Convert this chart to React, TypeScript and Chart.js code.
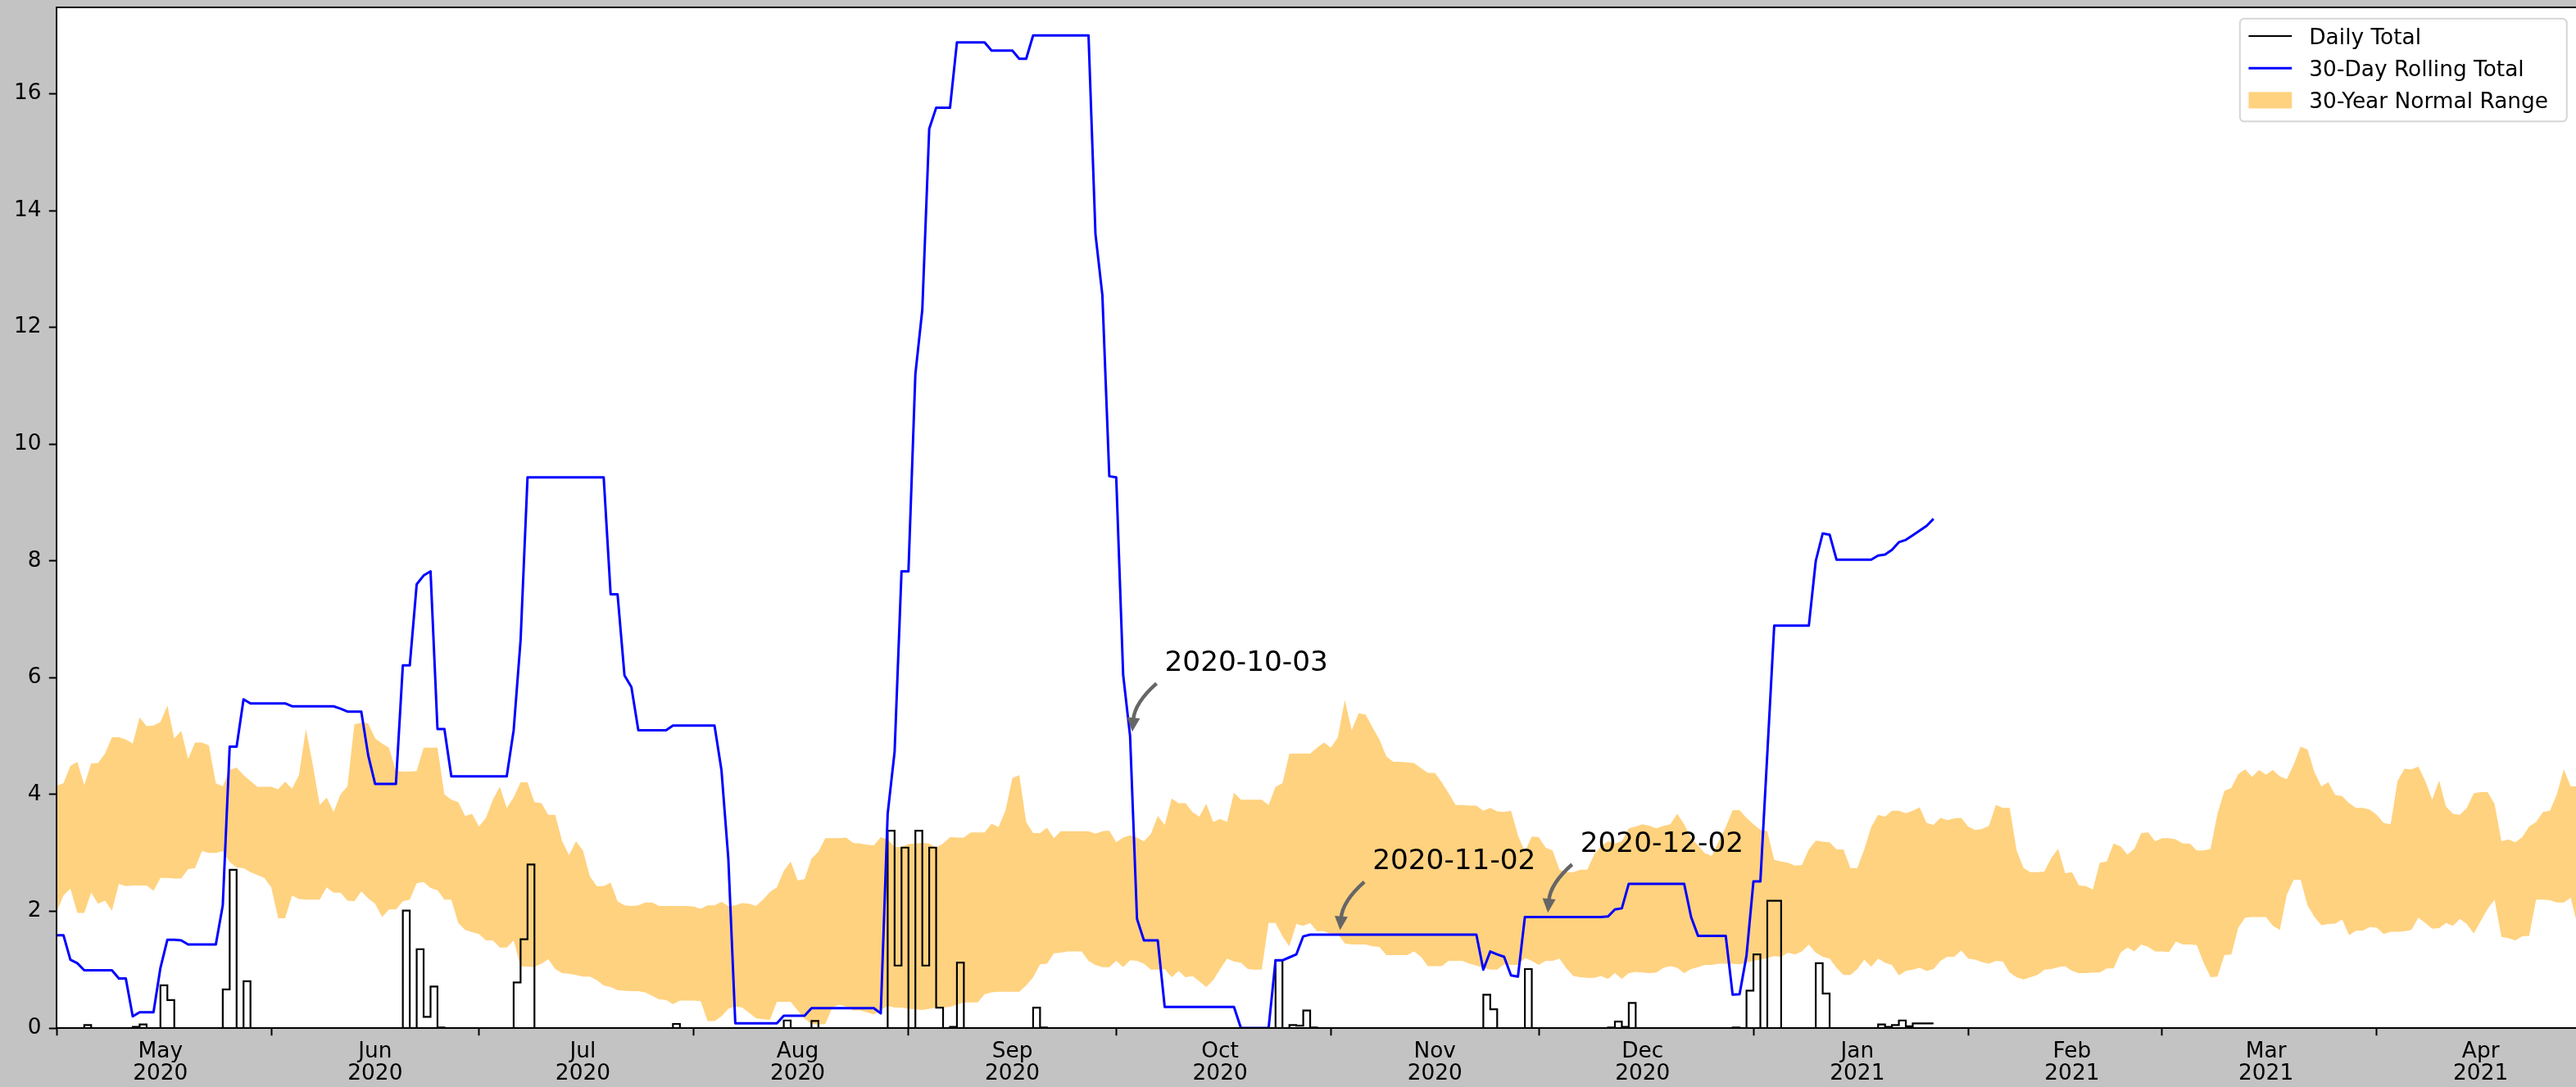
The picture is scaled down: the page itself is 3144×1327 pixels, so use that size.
import React, { useEffect, useRef } from 'react';
import { Chart, registerables } from 'chart.js';

Chart.register(...registerables);

// ---------------- data ----------------
// Day index = days since 2020-05-01
const START_DATE = '2020-05-01';
const END_DATE = '2021-04-30';

const monthStarts = ['2020-05-01', '2020-06-01', '2020-07-01', '2020-08-01', '2020-09-01', '2020-10-01',
  '2020-11-01', '2020-12-01', '2021-01-01', '2021-02-01', '2021-03-01', '2021-04-01'];
const monthLabels = ['May', 'Jun', 'Jul', 'Aug', 'Sep', 'Oct', 'Nov', 'Dec', 'Jan', 'Feb', 'Mar', 'Apr'];
const monthYears = ['2020', '2020', '2020', '2020', '2020', '2020', '2020', '2020', '2021', '2021', '2021', '2021'];

const yTicks = [0, 2, 4, 6, 8, 10, 12, 14, 16];
const Y_MAX = 17.48;

// Daily totals: rain days (day index) and amounts
const dailyLastDay = 271;
const rainDays = [4, 11, 12, 15, 16, 24, 25, 27, 50, 52, 53, 54, 55, 66, 67, 68, 89, 105, 109,
  120, 121, 122, 124, 125, 126, 127, 129, 130, 141, 142, 176, 178, 179, 180, 181, 206, 207, 212,
  224, 225, 226, 227, 242, 244, 245, 247, 248, 254, 255, 263, 264, 265, 266, 267, 268, 269, 270, 271];
const rainVals = [0.05, 0.02, 0.06, 0.73, 0.48, 0.66, 2.71, 0.80, 2.01, 1.35, 0.19, 0.71, 0.01, 0.78, 1.52, 2.80, 0.07, 0.13, 0.12,
  3.38, 1.07, 3.09, 3.38, 1.07, 3.09, 0.35, 0.02, 1.12, 0.35, 0.01, 1.16, 0.05, 0.04, 0.30, 0.01, 0.57, 0.32, 1.01,
  0.01, 0.11, 0.02, 0.43, 0.01, 0.64, 1.26, 2.18, 2.18, 1.11, 0.59, 0.06, 0.02, 0.05, 0.13, 0.03, 0.08, 0.08, 0.08, 0.08];

// 30-day rolling total (vertices, day index -> value)
const rollDays = [0, 1, 2, 3, 4, 8, 9, 10, 11, 12, 14, 15, 16, 17, 18, 19, 23, 24, 25, 26, 27, 28, 33, 34, 40, 41, 42, 44,
  45, 46, 49, 50, 51, 52, 53, 54, 55, 56, 57, 65, 66, 67, 68, 79, 80, 81, 82, 83, 84, 88, 89, 95, 96, 97, 98, 104, 105,
  108, 109, 118, 119, 120, 121, 122, 123, 124, 125, 126, 127, 129, 130, 134, 135, 138, 139, 140, 141, 149, 150, 151,
  152, 153, 154, 155, 156, 157, 159, 160, 170, 171, 175, 176, 177, 178, 179, 180, 181, 205, 206, 207, 208, 209, 210,
  211, 212, 223, 224, 225, 226, 227, 235, 236, 237, 241, 242, 243, 244, 245, 246, 247, 248, 253, 254, 255, 256, 257,
  262, 263, 264, 265, 266, 267, 268, 269, 270, 271];
const rollVals = [1.59, 1.59, 1.17, 1.11, 0.99, 0.99, 0.85, 0.85, 0.20, 0.27, 0.27, 1.03, 1.51, 1.51, 1.50, 1.43, 1.43,
  2.10, 4.82, 4.82, 5.63, 5.56, 5.56, 5.51, 5.51, 5.47, 5.42, 5.42, 4.67, 4.18, 4.18, 6.21, 6.21, 7.60, 7.75, 7.82,
  5.12, 5.12, 4.31, 4.31, 5.10, 6.64, 9.43, 9.43, 7.43, 7.43, 6.04, 5.84, 5.10, 5.10, 5.18, 5.18, 4.42, 2.89, 0.08,
  0.08, 0.21, 0.21, 0.34, 0.34, 0.25, 3.67, 4.73, 7.82, 7.82, 11.20, 12.30, 15.40, 15.76, 15.76, 16.88, 16.88, 16.74,
  16.74, 16.60, 16.60, 17.00, 17.00, 13.60, 12.55, 9.45, 9.43, 6.05, 5.00, 1.87, 1.50, 1.50, 0.36, 0.36, 0.00, 0.00,
  1.16, 1.16, 1.21, 1.26, 1.57, 1.60, 1.60, 1.00, 1.31, 1.26, 1.22, 0.90, 0.88, 1.90, 1.90, 1.91, 2.03, 2.05, 2.47,
  2.47, 1.90, 1.58, 1.58, 0.57, 0.58, 1.24, 2.51, 2.51, 4.69, 6.89, 6.89, 8.00, 8.47, 8.45, 8.02, 8.02, 8.09, 8.11,
  8.19, 8.32, 8.36, 8.44, 8.52, 8.60, 8.72];

// 30-year normal range, one value per day from 2020-05-01 to 2021-04-30
const normalUpper = [
  4.15, 4.19, 4.49, 4.56, 4.16, 4.53, 4.54, 4.70, 4.98, 4.98,
  4.94, 4.87, 5.32, 5.17, 5.18, 5.24, 5.52, 4.96, 5.09, 4.61,
  4.89, 4.89, 4.84, 4.19, 4.14, 4.42, 4.46, 4.33, 4.23, 4.13,
  4.13, 4.13, 4.09, 4.22, 4.10, 4.33, 5.12, 4.51, 3.82, 3.95,
  3.70, 4.00, 4.14, 5.20, 5.23, 5.22, 4.96, 4.87, 4.80, 4.40,
  4.39, 4.39, 4.40, 4.80, 4.80, 4.80, 4.00, 3.91, 3.87, 3.63,
  3.67, 3.45, 3.60, 3.91, 4.13, 3.77, 3.95, 4.21, 4.21, 3.87,
  3.85, 3.65, 3.65, 3.20, 2.96, 3.20, 3.04, 2.60, 2.43, 2.43,
  2.49, 2.17, 2.10, 2.09, 2.10, 2.15, 2.15, 2.09, 2.09, 2.09,
  2.09, 2.09, 2.08, 2.04, 2.10, 2.10, 2.16, 2.09, 2.10, 2.14,
  2.13, 2.09, 2.20, 2.33, 2.41, 2.69, 2.85, 2.53, 2.55, 2.90,
  3.02, 3.25, 3.25, 3.25, 3.26, 3.17, 3.16, 3.14, 3.13, 3.27,
  3.23, 3.10, 3.10, 3.15, 3.16, 3.17, 3.16, 3.09, 3.16, 3.27,
  3.26, 3.26, 3.35, 3.35, 3.35, 3.50, 3.44, 3.72, 4.28, 4.33,
  3.53, 3.34, 3.34, 3.43, 3.25, 3.37, 3.37, 3.37, 3.37, 3.37,
  3.33, 3.37, 3.38, 3.18, 3.26, 3.30, 3.26, 3.20, 3.32, 3.63,
  3.48, 3.93, 3.85, 3.85, 3.70, 3.62, 3.84, 3.53, 3.58, 3.53,
  4.03, 3.91, 3.91, 3.91, 3.91, 3.82, 4.13, 4.19, 4.70, 4.70,
  4.70, 4.70, 4.80, 4.89, 4.80, 4.98, 5.62, 5.10, 5.39, 5.37,
  5.15, 4.94, 4.65, 4.56, 4.56, 4.55, 4.54, 4.45, 4.37, 4.37,
  4.21, 4.02, 3.82, 3.82, 3.81, 3.81, 3.72, 3.77, 3.71, 3.70,
  3.72, 3.30, 3.02, 3.28, 3.27, 3.09, 3.04, 2.71, 2.67, 2.67,
  2.71, 2.71, 2.97, 3.11, 3.20, 3.16, 3.20, 3.42, 3.45, 3.49,
  3.46, 3.42, 3.46, 3.49, 3.67, 3.49, 3.25, 3.13, 2.99, 2.95,
  3.20, 3.44, 3.73, 3.73, 3.60, 3.49, 3.39, 3.37, 2.88, 2.85,
  2.83, 2.78, 2.79, 3.06, 3.21, 3.19, 3.18, 3.06, 3.06, 2.74,
  2.74, 3.06, 3.44, 3.65, 3.62, 3.72, 3.72, 3.68, 3.72, 3.78,
  3.51, 3.48, 3.60, 3.56, 3.59, 3.60, 3.45, 3.39, 3.41, 3.46,
  3.82, 3.77, 3.77, 3.04, 2.74, 2.67, 2.67, 2.68, 2.91, 3.07,
  2.65, 2.67, 2.44, 2.43, 2.37, 2.83, 2.85, 3.16, 3.11, 2.97,
  3.07, 3.34, 3.35, 3.20, 3.25, 3.25, 3.23, 3.16, 3.16, 3.04,
  3.04, 3.07, 3.67, 4.06, 4.11, 4.35, 4.43, 4.30, 4.42, 4.34,
  4.42, 4.31, 4.26, 4.51, 4.82, 4.77, 4.38, 4.14, 4.21, 3.99,
  3.97, 3.85, 3.77, 3.77, 3.74, 3.65, 3.51, 3.49, 4.23, 4.44,
  4.43, 4.48, 4.23, 3.91, 4.24, 3.79, 3.67, 3.65, 3.77, 4.02,
  4.04, 4.04, 3.84, 3.20, 3.23, 3.18, 3.27, 3.45, 3.53, 3.70,
  3.72, 4.00, 4.43, 4.14, 4.14];
const normalLower = [
  1.99, 2.27, 2.39, 1.97, 1.97, 2.32, 2.13, 2.18, 2.01, 2.47,
  2.43, 2.44, 2.44, 2.44, 2.35, 2.57, 2.57, 2.56, 2.56, 2.72,
  2.74, 3.03, 3.00, 3.00, 3.03, 2.84, 2.75, 2.74, 2.67, 2.62,
  2.57, 2.41, 1.88, 1.88, 2.27, 2.21, 2.20, 2.20, 2.20, 2.41,
  2.32, 2.32, 2.18, 2.17, 2.34, 2.22, 2.13, 1.90, 2.03, 2.03,
  2.17, 2.20, 2.48, 2.50, 2.40, 2.36, 2.20, 2.20, 1.80, 1.68,
  1.64, 1.61, 1.50, 1.50, 1.38, 1.38, 1.50, 1.06, 1.05, 1.05,
  1.10, 1.18, 1.01, 0.94, 0.93, 0.91, 0.88, 0.88, 0.82, 0.73,
  0.70, 0.65, 0.64, 0.63, 0.63, 0.61, 0.55, 0.49, 0.48, 0.41,
  0.47, 0.47, 0.47, 0.46, 0.12, 0.12, 0.20, 0.33, 0.37, 0.35,
  0.26, 0.17, 0.15, 0.14, 0.45, 0.45, 0.45, 0.30, 0.16, 0.07,
  0.06, 0.07, 0.35, 0.40, 0.37, 0.30, 0.30, 0.27, 0.23, 0.31,
  0.38, 0.35, 0.35, 0.33, 0.32, 0.31, 0.33, 0.35, 0.35, 0.36,
  0.40, 0.44, 0.44, 0.44, 0.58, 0.61, 0.62, 0.62, 0.62, 0.62,
  0.73, 0.87, 1.09, 1.10, 1.28, 1.29, 1.31, 1.31, 1.31, 1.15,
  1.08, 1.04, 1.04, 1.15, 1.04, 1.16, 1.15, 1.10, 1.00, 1.00,
  1.01, 0.87, 0.98, 0.87, 0.89, 0.80, 0.70, 0.82, 1.01, 1.19,
  1.14, 1.12, 1.01, 1.00, 1.00, 1.80, 1.80, 1.57, 1.40, 1.78,
  1.75, 1.80, 1.66, 1.66, 1.61, 1.61, 1.45, 1.43, 1.43, 1.43,
  1.40, 1.39, 1.25, 1.25, 1.25, 1.25, 1.31, 1.22, 1.06, 1.06,
  1.06, 1.15, 1.15, 1.15, 1.10, 1.07, 1.03, 1.00, 1.00, 1.09,
  1.08, 1.08, 1.20, 1.15, 1.08, 1.15, 1.15, 1.19, 1.02, 0.89,
  0.87, 0.86, 0.86, 0.89, 0.84, 0.94, 0.84, 0.94, 0.96, 0.95,
  0.94, 0.95, 1.03, 1.06, 1.03, 0.94, 1.01, 1.04, 1.08, 1.08,
  1.10, 1.10, 1.10, 1.09, 1.12, 1.15, 1.17, 1.20, 1.23, 1.22,
  1.29, 1.26, 1.31, 1.43, 1.29, 1.22, 1.19, 1.03, 0.91, 0.91,
  1.01, 1.17, 1.05, 1.19, 1.12, 1.08, 0.90, 0.98, 1.00, 1.03,
  0.98, 1.01, 1.15, 1.22, 1.22, 1.33, 1.19, 1.17, 1.13, 1.10,
  1.15, 1.14, 0.95, 0.87, 0.83, 0.87, 0.91, 1.00, 1.01, 1.04,
  1.06, 0.98, 0.94, 0.94, 0.95, 0.95, 1.02, 1.02, 1.29, 1.38,
  1.31, 1.43, 1.39, 1.31, 1.31, 1.30, 1.48, 1.43, 1.43, 1.42,
  1.12, 0.87, 0.88, 1.25, 1.26, 1.72, 1.89, 1.90, 1.90, 1.90,
  1.75, 1.68, 2.28, 2.54, 2.54, 2.10, 1.90, 1.76, 1.78, 1.79,
  1.86, 1.59, 1.67, 1.67, 1.73, 1.72, 1.61, 1.65, 1.65, 1.66,
  1.68, 1.89, 1.80, 1.70, 1.71, 1.80, 1.75, 1.87, 1.78, 1.62,
  1.83, 2.04, 2.20, 1.56, 1.54, 1.50, 1.57, 1.58, 2.20, 2.20,
  2.19, 2.15, 2.15, 2.23, 1.75];

// Annotated dates
const annotationDates = ['2020-10-03', '2020-11-02', '2020-12-02'];

const legendLabels = ['Daily Total', '30-Day Rolling Total', '30-Year Normal Range'];

// ---------------- helpers / styles ----------------
const dayOf = (iso: string) =>
  Math.round((Date.parse(iso + 'T00:00:00Z') - Date.parse(START_DATE + 'T00:00:00Z')) / 86400000);

const PAGE_W = 3144;
const PAGE_H = 1327;
const CANVAS_W = 3148;
const FONT = '"DejaVu Sans", "Liberation Sans", sans-serif';
const FIG_BG = '#c3c3c3';
const BAND = 'rgba(255,165,0,0.5)';
const BLUE = '#0000ff';
const ARROW = '#666666';

function rollingAt(day: number) {
  for (let i = 0; i < rollDays.length - 1; i++) {
    if (day >= rollDays[i] && day <= rollDays[i + 1]) {
      const t = (day - rollDays[i]) / (rollDays[i + 1] - rollDays[i] || 1);
      return rollVals[i] + t * (rollVals[i + 1] - rollVals[i]);
    }
  }
  return rollVals[rollVals.length - 1];
}

export default function App() {
  const ref = useRef<HTMLCanvasElement | null>(null);

  useEffect(() => {
    const canvas = ref.current;
    if (!canvas) return;

    const dailyPts: { x: number; y: number }[] = [];
    for (let d = 0; d <= dailyLastDay; d++) dailyPts.push({ x: d, y: 0 });
    rainDays.forEach((d, i) => { dailyPts[d].y = rainVals[i]; });
    const rollPts = rollDays.map((d, i) => ({ x: d, y: rollVals[i] }));
    const lowerPts = normalLower.map((v, i) => ({ x: i, y: v }));
    const upperPts = normalUpper.map((v, i) => ({ x: i, y: v }));

    const boundaryDays = monthStarts.map(dayOf);
    const labelDays = boundaryDays.map((d) => d + 15);
    const xMax = dayOf(END_DATE);

    const bgPlugin = {
      id: 'figbg',
      beforeDraw(chart: any) {
        const { ctx, chartArea: a } = chart;
        ctx.save();
        ctx.fillStyle = FIG_BG;
        ctx.fillRect(0, 0, chart.width, chart.height);
        ctx.fillStyle = '#ffffff';
        ctx.fillRect(a.left, a.top, a.right - a.left, a.bottom - a.top);
        ctx.restore();
      },
    };

    const overlayPlugin = {
      id: 'overlay',
      afterDraw(chart: any) {
        const { ctx, chartArea: a } = chart;
        const xs = chart.scales.x;
        const ys = chart.scales.y;
        ctx.save();
        // spines
        ctx.strokeStyle = '#000';
        ctx.lineWidth = 2;
        ctx.strokeRect(a.left, a.top, a.right - a.left, a.bottom - a.top);

        // annotations
        annotationDates.forEach((iso) => {
          const d = dayOf(iso);
          const v = rollingAt(d);
          const tx = xs.getPixelForValue(d + 5);
          const ty = ys.getPixelForValue(v + 1);
          ctx.font = `34.3px ${FONT}`;
          ctx.fillStyle = '#000';
          ctx.textAlign = 'left';
          ctx.textBaseline = 'bottom';
          ctx.fillText(iso, tx, ty);

          const px = xs.getPixelForValue(d);
          const py = ys.getPixelForValue(v);
          const x0 = tx - 10, y0 = ty + 7;
          const ddx = px - x0, ddy = py - y0;
          const len = Math.hypot(ddx, ddy);
          const x1 = px - (ddx / len) * 6, y1 = py - (ddy / len) * 6;
          const rad = 0.2;
          const mx = (x0 + x1) / 2, my = (y0 + y1) / 2;
          const cx = mx - rad * (y1 - y0), cy = my + rad * (x1 - x0);
          const ang = Math.atan2(y1 - cy, x1 - cx);
          const hl = 17, hw = 16;
          const bx = x1 - hl * Math.cos(ang), by = y1 - hl * Math.sin(ang);
          ctx.strokeStyle = ARROW;
          ctx.fillStyle = ARROW;
          ctx.lineWidth = 4.5;
          ctx.lineCap = 'butt';
          ctx.beginPath();
          ctx.moveTo(x0, y0);
          ctx.quadraticCurveTo(cx, cy, bx + 2 * Math.cos(ang), by + 2 * Math.sin(ang));
          ctx.stroke();
          ctx.beginPath();
          ctx.moveTo(x1, y1);
          ctx.lineTo(bx + (hw / 2) * Math.sin(ang), by - (hw / 2) * Math.cos(ang));
          ctx.lineTo(bx - (hw / 2) * Math.sin(ang), by + (hw / 2) * Math.cos(ang));
          ctx.closePath();
          ctx.fill();
        });

        // legend
        const fs = 26.4;
        const boxW = 399, boxH = 125.6;
        const bx0 = a.right - 13.2 - boxW;
        const by0 = a.top + 13.7;
        ctx.beginPath();
        const r = 5.5;
        ctx.moveTo(bx0 + r, by0);
        ctx.lineTo(bx0 + boxW - r, by0);
        ctx.arcTo(bx0 + boxW, by0, bx0 + boxW, by0 + r, r);
        ctx.lineTo(bx0 + boxW, by0 + boxH - r);
        ctx.arcTo(bx0 + boxW, by0 + boxH, bx0 + boxW - r, by0 + boxH, r);
        ctx.lineTo(bx0 + r, by0 + boxH);
        ctx.arcTo(bx0, by0 + boxH, bx0, by0 + boxH - r, r);
        ctx.lineTo(bx0, by0 + r);
        ctx.arcTo(bx0, by0, bx0 + r, by0, r);
        ctx.closePath();
        ctx.fillStyle = 'rgba(255,255,255,0.8)';
        ctx.fill();
        ctx.strokeStyle = 'rgba(204,204,204,0.8)';
        ctx.lineWidth = 2;
        ctx.stroke();

        const hx0 = bx0 + 10.6;
        const hx1 = hx0 + 52.8;
        const textX = hx1 + 21.1;
        const rowY = [by0 + 21.3, by0 + 60.6, by0 + 99.7];
        ctx.font = `${fs}px ${FONT}`;
        ctx.textAlign = 'left';
        ctx.textBaseline = 'alphabetic';
        legendLabels.forEach((lab, i) => {
          const cy2 = rowY[i];
          if (i === 0 || i === 1) {
            ctx.strokeStyle = i === 0 ? '#000' : BLUE;
            ctx.lineWidth = i === 0 ? 2.2 : 3;
            ctx.beginPath();
            ctx.moveTo(hx0, cy2);
            ctx.lineTo(hx1, cy2);
            ctx.stroke();
          } else {
            ctx.fillStyle = BAND;
            ctx.fillRect(hx0, cy2 - 10, hx1 - hx0, 20);
          }
          ctx.fillStyle = '#000';
          ctx.fillText(lab, textX, cy2 + 10);
        });
        ctx.restore();
      },
    };

    const chart = new Chart(canvas, {
      type: 'line',
      data: {
        datasets: [
          {
            label: '30-Day Rolling Total',
            data: rollPts,
            borderColor: BLUE,
            borderWidth: 3,
            pointRadius: 0,
            fill: false,
            tension: 0,
            borderJoinStyle: 'round',
          },
          {
            label: 'Daily Total',
            data: dailyPts,
            borderColor: '#000000',
            borderWidth: 2.2,
            pointRadius: 0,
            fill: false,
            stepped: 'before',
          },
          {
            label: 'normal-lower',
            data: lowerPts,
            borderColor: 'rgba(0,0,0,0)',
            borderWidth: 0.01,
            pointRadius: 0,
            fill: false,
          },
          {
            label: '30-Year Normal Range',
            data: upperPts,
            borderColor: 'rgba(0,0,0,0)',
            borderWidth: 0.01,
            pointRadius: 0,
            backgroundColor: BAND,
            fill: '-1',
          },
        ],
      },
      options: {
        animation: false,
        responsive: false,
        devicePixelRatio: 1,
        events: [],
        layout: { padding: { top: 9, left: 0, right: CANVAS_W - 3146, bottom: 0 } },
        plugins: {
          legend: { display: false },
          tooltip: { enabled: false },
          title: { display: false },
        },
        scales: {
          x: {
            type: 'linear',
            min: 0,
            max: xMax,
            border: { display: false },
            grid: {
              drawOnChartArea: false,
              drawTicks: true,
              tickLength: 9.2,
              tickWidth: 2,
              color: 'rgba(0,0,0,0)',
              tickColor: (ctx: any) =>
                ctx.tick && boundaryDays.includes(ctx.tick.value) ? '#000' : 'rgba(0,0,0,0)',
            },
            afterBuildTicks: (scale: any) => {
              const vals = [...boundaryDays, ...labelDays].filter((v) => v <= xMax).sort((p, q) => p - q);
              scale.ticks = vals.map((v) => ({ value: v }));
            },
            afterFit: (scale: any) => {
              scale.height = PAGE_H - 1255;
              scale.paddingLeft = 0;
              scale.paddingRight = 0;
              scale.paddingTop = 0;
              scale.paddingBottom = 0;
            },
            ticks: {
              autoSkip: false,
              maxRotation: 0,
              minRotation: 0,
              padding: 6.2,
              color: '#000',
              font: { family: FONT, size: 26.4, lineHeight: 27 / 26.4 },
              callback: (value: any) => {
                const i = labelDays.indexOf(Number(value));
                return i >= 0 ? [monthLabels[i], monthYears[i]] : '';
              },
            },
          },
          y: {
            type: 'linear',
            min: 0,
            max: Y_MAX,
            border: { display: false },
            grid: {
              drawOnChartArea: false,
              drawTicks: true,
              tickLength: 9.2,
              tickWidth: 2,
              color: 'rgba(0,0,0,0)',
              tickColor: '#000',
            },
            afterBuildTicks: (scale: any) => {
              scale.ticks = yTicks.map((v) => ({ value: v }));
            },
            afterFit: (scale: any) => {
              scale.width = 69;
              scale.paddingTop = 0;
              scale.paddingBottom = 0;
              scale.paddingLeft = 0;
              scale.paddingRight = 0;
            },
            ticks: {
              padding: 9.2,
              color: '#000',
              font: { family: FONT, size: 26.4 },
              callback: (value: any) => String(value),
            },
          },
        },
      },
      plugins: [bgPlugin, overlayPlugin],
    } as any);

    return () => chart.destroy();
  }, []);

  return (
    <div
      style={{
        position: 'fixed',
        left: 0,
        top: 0,
        width: PAGE_W,
        height: PAGE_H,
        overflow: 'hidden',
        background: FIG_BG,
      }}
    >
      <canvas
        ref={ref}
        width={CANVAS_W}
        height={PAGE_H}
        style={{ display: 'block', width: CANVAS_W, height: PAGE_H }}
      />
    </div>
  );
}
